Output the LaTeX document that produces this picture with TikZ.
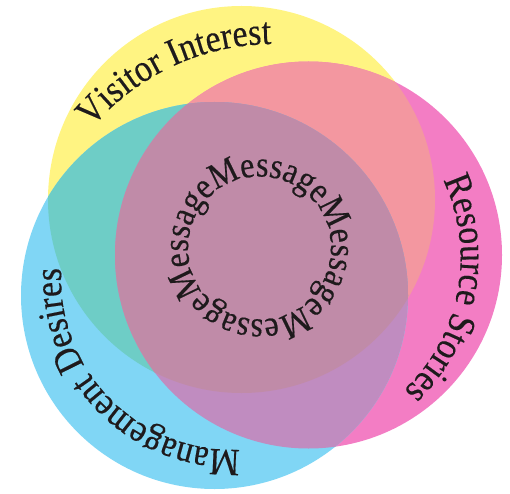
\documentclass[tikz,border=0pt]{standalone}
\usepackage{fontspec}
\setmainfont{Liberation Serif}
\newfontfamily\lblface[FakeStretch=0.88,FakeBold=0.35]{Liberation Serif}
\usetikzlibrary{decorations.text}

% region colours of the three overlapping discs
\definecolor{cYel}{RGB}{255,244,130}
\definecolor{cPnk}{RGB}{243,125,196}
\definecolor{cBlu}{RGB}{128,214,245}
\definecolor{cYB}{RGB}{110,205,198}
\definecolor{cYP}{RGB}{243,151,160}
\definecolor{cBP}{RGB}{192,140,192}
\definecolor{cYBP}{RGB}{192,139,168}
\definecolor{ink}{RGB}{30,26,28}

\newcommand\lblfont{\lblface\fontsize{38.5}{40}\selectfont}
\newcommand\msgfont{\lblface\fontsize{36.5}{38}\selectfont}
\newlength\msgw

\begin{document}
\settowidth\msgw{\msgfont Message}
\begin{tikzpicture}[x=1pt,y=1pt,
  arclabel/.style={decorate, decoration={text along path, text align=center,
      text color=ink, text={|\lblfont|#1}}},
  ringlabel/.style={decorate, decoration={text along path, text align=left,
      text color=ink, text={|\msgfont|#1}}}]
\useasboundingbox (0,0) rectangle (510,493);

% disc centres
\coordinate (Y) at (241.5,293.5);
\coordinate (P) at (308.5,238);
\coordinate (B) at (214.5,197.5);
\def\rad{193.5pt}

% single discs
\fill[cYel] (Y) circle[radius=\rad];
\fill[cPnk] (P) circle[radius=\rad];
\fill[cBlu] (B) circle[radius=\rad];

% pairwise overlaps
\begin{scope}
  \clip (Y) circle[radius=\rad];
  \fill[cYP] (P) circle[radius=\rad];
  \fill[cYB] (B) circle[radius=\rad];
\end{scope}
\begin{scope}
  \clip (B) circle[radius=\rad];
  \fill[cBP] (P) circle[radius=\rad];
\end{scope}
% triple overlap
\begin{scope}
  \clip (Y) circle[radius=\rad];
  \clip (B) circle[radius=\rad];
  \fill[cYBP] (P) circle[radius=\rad];
\end{scope}

% curved labels
\coordinate (VC) at (274,209);
\coordinate (RC) at (278.6,234.9);
\coordinate (MC) at (232,214.4);
\coordinate (KC) at (259.5,245);

\path[arclabel={Visitor Interest}]
  (VC) ++(175:240pt) arc[start angle=175, end angle=55, radius=240pt];
\path[arclabel={Resource Stories}]
  (RC) ++(49.4:182pt) arc[start angle=49.4, end angle=-70.6, radius=182pt];
\path[arclabel={Management Desires}]
  (MC) ++(294.6:171pt) arc[start angle=294.6, end angle=154.6, radius=171pt];

% ring of repeated words
\pgfmathsetmacro{\ringr}{4*\msgw/6.28319}
\path[ringlabel={MessageMessageMessageMessage}]
  (KC) ++(127.3:\ringr pt) arc[start angle=127.3, end angle=-240, radius=\ringr pt];
\end{tikzpicture}
\end{document}
